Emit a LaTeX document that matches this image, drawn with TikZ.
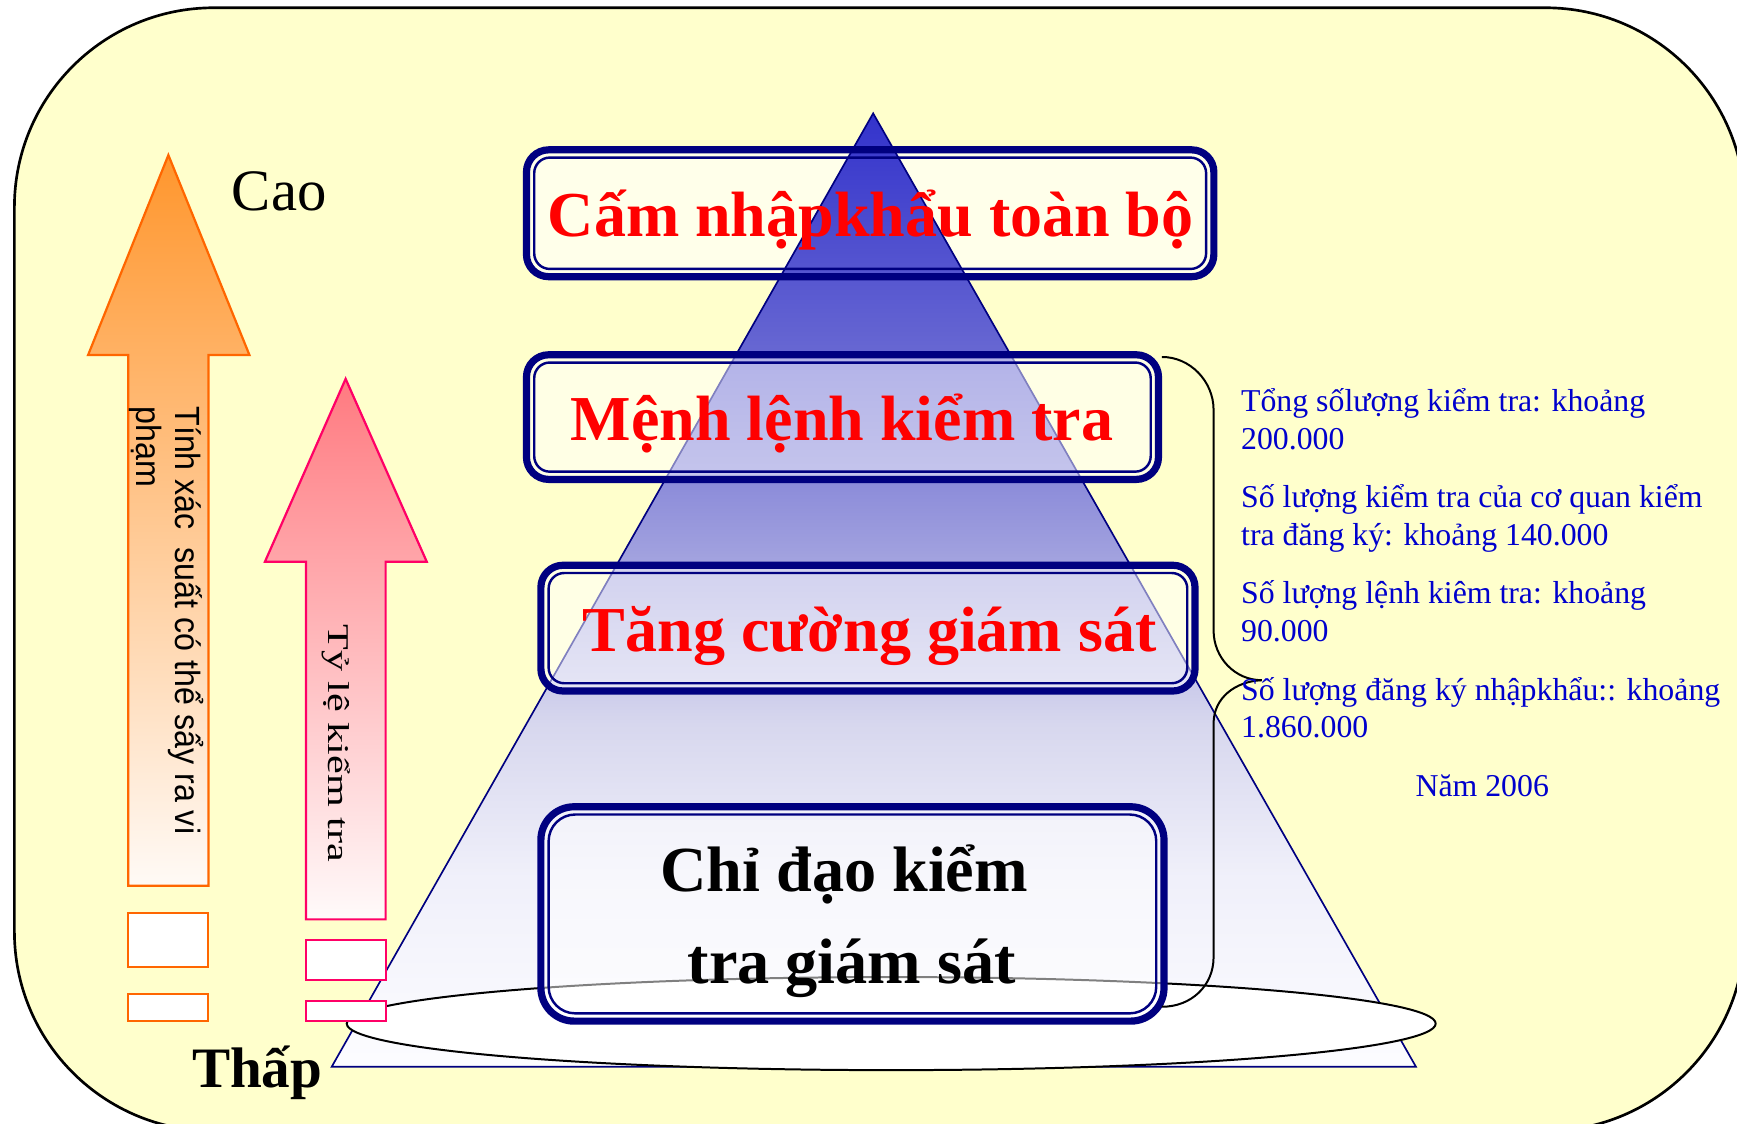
\documentclass[tikz,border=0pt]{standalone}
\usepackage{fontspec}
\setmainfont{Liberation Serif}
\newfontfamily\arialf{Liberation Sans}
\usetikzlibrary{calc}
\definecolor{navyc}{RGB}{0,0,128}
\definecolor{bgyel}{RGB}{255,255,204}
\definecolor{txtblue}{RGB}{0,0,204}
\definecolor{orgline}{RGB}{255,102,0}
\definecolor{orgtop}{RGB}{255,150,45}
\definecolor{orgbot}{RGB}{255,250,246}
\definecolor{pnkline}{RGB}{255,0,102}
\definecolor{pnktop}{RGB}{255,122,128}
\definecolor{pnkbot}{RGB}{255,250,250}
\pgfdeclareverticalshading{pyrshade}{100bp}{rgb(0bp)=(0.99,0.99,1); rgb(25bp)=(0.99,0.99,1); rgb(35bp)=(0.94,0.94,0.98); rgb(43bp)=(0.843,0.843,0.933); rgb(52bp)=(0.627,0.627,0.871); rgb(62bp)=(0.412,0.412,0.824); rgb(75bp)=(0.2,0.2,0.8); rgb(100bp)=(0.2,0.2,0.8)}
\begin{document}
\begin{tikzpicture}[x=0.5pt,y=-0.5pt,
  boxfill/.style={rectangle, inner sep=0pt, outer sep=0pt, fill=white, fill opacity=0.5},
  boxline/.style={draw=navyc, line width=3.25pt},
  innerline/.style={draw=navyc, line width=1.1pt},
  conn/.style={draw=black, line width=0.9pt},
  redtxt/.style={text=red, font=\fontsize{28.9}{34}\selectfont\bfseries, inner sep=0pt},
  blktxt/.style={text=black, font=\fontsize{29}{34}\selectfont\bfseries, inner sep=0pt},
  rtxt/.style={text=txtblue, font=\fontsize{14.35}{17}\selectfont, inner sep=0pt, anchor=base west},
  smallbox/.style={line width=1pt, fill=white}
]
\useasboundingbox (0,0) rectangle (1568,1014);
\fill[white] (0,0) rectangle (1568,1014);
% background
\draw[fill=bgyel, line width=1.2pt, rounded corners=90pt] (13,7) rectangle (1575,1021);

% box 1 fill (under the pyramid)
\node[boxfill, fill opacity=0.6, rounded corners=10pt, minimum width=310.25pt, minimum height=57.25pt] (b1) at (785.5,192.5) {};

% pyramid
\shadedraw[shading=pyrshade, draw=navyc, line width=0.75pt] (788.2,102.3) -- (1278.2,963) -- (299.4,963) -- cycle;

% ellipse at the base
\draw[fill=white, line width=0.9pt] (804.5,924) ellipse [x radius=491.5, y radius=42];

% box 1 border
\draw[boxline, rounded corners=10pt] (b1.north west) rectangle (b1.south east);
\draw[innerline, rounded corners=7pt] ($(b1.north west)+(7,7)$) rectangle ($(b1.south east)+(-7,-7)$);

% boxes 2-4
\node[boxfill, boxline, rounded corners=10pt, minimum width=285.25pt, minimum height=56.25pt] (b2) at (760.5,376.5) {};
\draw[innerline, rounded corners=7pt] ($(b2.north west)+(7,7)$) rectangle ($(b2.south east)+(-7,-7)$);
\node[boxfill, boxline, rounded corners=10pt, minimum width=295.25pt, minimum height=56.75pt] (b3) at (783.5,567) {};
\draw[innerline, rounded corners=7pt] ($(b3.north west)+(7,7)$) rectangle ($(b3.south east)+(-7,-7)$);
\node[boxfill, boxline, rounded corners=15pt, minimum width=281.25pt, minimum height=96.75pt] (b4) at (769.5,825) {};
\draw[innerline, rounded corners=12pt] ($(b4.north west)+(7,7)$) rectangle ($(b4.south east)+(-7,-7)$);

% brace connectors
\coordinate (tip) at (1139,614);
\coordinate (cstart) at ($(b2.north east)+(3,2)$);
\coordinate (cend) at ($(b4.south east)+(-2,-13)$);
\draw[conn] (cstart) .. controls (1074,322) and (1095.5,344) .. (1095.5,370) -- (1095.5,569) .. controls (1095.5,594) and (1115,614) .. (tip);
\draw[conn] (tip) .. controls (1115,615) and (1095.5,630) .. (1095.5,653) -- (1095.5,864) .. controls (1095.5,890) and (1075,909) .. (cend);

% orange arrow
\shadedraw[top color=orgtop, bottom color=orgbot, draw=orgline, line width=1pt]
  (152,140) -- (225.2,320.5) -- (188.3,320.5) -- (188.3,799.5) -- (115.7,799.5) -- (115.7,320.5) -- (79.5,320.5) -- cycle;
\draw[smallbox, draw=orgline] (115.8,824.5) rectangle (188,872.6);
\draw[smallbox, draw=orgline] (115.8,897.6) rectangle (188,921.6);

% pink arrow
\shadedraw[top color=pnktop, bottom color=pnkbot, draw=pnkline, line width=1pt]
  (312,342) -- (385.2,507) -- (348.1,507) -- (348.1,829.9) -- (276.2,829.9) -- (276.2,507) -- (239.2,507) -- cycle;
\draw[smallbox, draw=pnkline] (276.2,848.5) rectangle (348.1,884.6);
\draw[smallbox, draw=pnkline] (276.2,903.3) rectangle (348.1,921.4);

% rotated texts in arrows
\node[rotate=-90, anchor=base west, inner sep=0pt, font=\arialf\fontsize{15.8}{18}\selectfont] (o1) at (158,366.5) {\scalebox{0.92}[1]{Tính xác\ \ suất có thể sẩy ra vi}};
\node[rotate=-90, anchor=base west, inner sep=0pt, font=\arialf\fontsize{15.8}{18}\selectfont] (o2) at (123.4,366.5) {\scalebox{0.92}[1]{phạm}};
\node[rotate=-90, anchor=base west, inner sep=0pt, font=\fontsize{13.6}{16}\selectfont] (p1) at (296.4,563.3) {\scalebox{1.4}[1]{Tỷ lệ kiểm tra}};

% Cao / Thap
\node[anchor=base west, inner sep=0pt, font=\fontsize{26.5}{30}\selectfont] (cao) at (209,190.2) {Cao};
\node[anchor=base west, inner sep=0pt, font=\fontsize{25.8}{30}\selectfont\bfseries] (thap) at (173,981.8) {Thấp};

% box texts
\node[redtxt, anchor=base] (t1) at (786,213.6) {Cấm nhậpkhẩu toàn bộ};
\node[redtxt, anchor=base] (t2) at (760,397.2) {Mệnh lệnh kiểm tra};
\node[redtxt, anchor=base] (t3) at (785,588.3) {Tăng cường giám sát};
\node[blktxt, anchor=base] (t4a) at (762,804.9) {Chỉ đạo kiểm};
\node[blktxt, anchor=base] (t4b) at (769,887.6) {tra giám sát};

% right texts
\node[rtxt] (r1) at (1120,371.6) {Tổng sốlượng kiểm tra: khoảng};
\node[rtxt] (r2) at (1120,406.2) {200.000};
\node[rtxt] (r3) at (1120,458) {Số lượng kiểm tra của cơ quan kiểm};
\node[rtxt] (r4) at (1120,492.6) {tra đăng ký: khoảng 140.000};
\node[rtxt] (r5) at (1120,544.6) {Số lượng lệnh kiêm tra: khoảng};
\node[rtxt] (r6) at (1120,579.2) {90.000};
\node[rtxt] (r7) at (1120,631.9) {Số lượng đăng ký nhậpkhẩu:: khoảng};
\node[rtxt] (r8) at (1120,665.9) {1.860.000};
\node[rtxt, anchor=base] (r9) at (1338,718.6) {Năm 2006};
\end{tikzpicture}
\end{document}
